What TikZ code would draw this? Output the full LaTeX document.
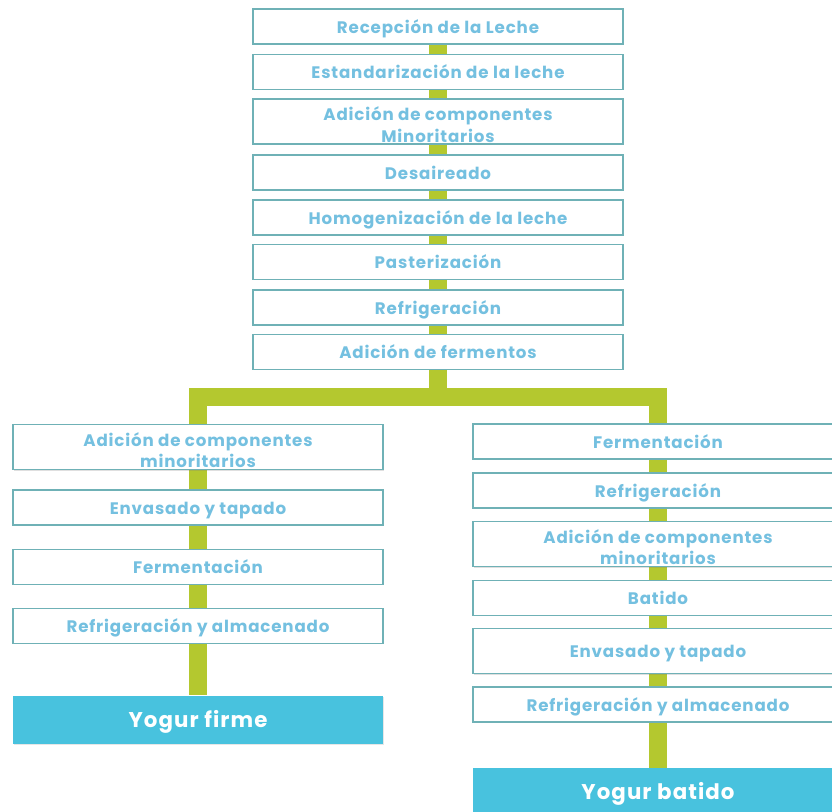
\documentclass[tikz,border=0pt]{standalone}
\usepackage{fontspec}
\setmainfont{Poppins}[LetterSpace=5]
\usetikzlibrary{shadows,backgrounds}

\definecolor{rand}{HTML}{6FB1B6}
\definecolor{schrift}{HTML}{74C0E0}
\definecolor{gruen}{HTML}{B4C82F}
\definecolor{cyan}{HTML}{48C2DE}

\def\oben{\rule{0pt}{15pt}}

\begin{document}
\begin{tikzpicture}[x=0.75pt,y=-0.75pt,
	schritt/.style={draw=rand,line width=1.1pt,fill=white,minimum width=277.5pt,
		minimum height=26pt,inner sep=0pt,align=center,text=schrift,
		text height=11pt,text depth=1pt,
		font=\bfseries\fontsize{12.5}{16}\selectfont,
		drop shadow={opacity=0.25,shadow xshift=0.8pt,shadow yshift=-0.8pt}},
	schritt2/.style={schritt,minimum height=34pt,text height=,text depth=},
	ende/.style={fill=cyan,minimum width=277.5pt,minimum height=36pt,inner sep=0pt,
		text=white,text height=13pt,text depth=1.2pt,
		font=\bfseries\fontsize{16}{18}\selectfont,
		drop shadow={opacity=0.2,shadow xshift=0.8pt,shadow yshift=-0.8pt}},
	stamm/.style={draw=gruen,line width=13.5pt}]

\useasboundingbox (0,0) rectangle (832,812);
\clip (0,0) rectangle (832,812);

% Hauptstrang
\node[schritt] (recepcion) at (438,26.5) {Recepción de la Leche};
\node[schritt] (estandar) at (438,72) {Estandarización de la leche};
\node[schritt2] (adicion) at (438,121.5) {\oben Adición de componentes\\Minoritarios};
\node[schritt] (desaireado) at (438,172.5) {Desaireado};
\node[schritt] (homogen) at (438,217.5) {Homogenización de la leche};
\node[schritt] (pasteur) at (438,262) {Pasterización};
\node[schritt] (refrig) at (438,307.5) {Refrigeración};
\node[schritt] (fermentos) at (438,352) {Adición de fermentos};
\coordinate (bar) at (438,397);

% links: Yogur firme
\node[schritt2] (l1) at (198,447) {\oben Adición de componentes\\minoritarios};
\node[schritt] (l2) at (198,507.5) {Envasado y tapado};
\node[schritt] (l3) at (198,567) {Fermentación};
\node[schritt] (l4) at (198,626) {Refrigeración y almacenado};
\node[ende] (firme) at (198,719.5) {Yogur firme};

% rechts: Yogur batido
\node[schritt] (r1) at (658,441.5) {Fermentación};
\node[schritt] (r2) at (658,490.5) {Refrigeración};
\node[schritt2] (r3) at (658,544) {\oben Adición de componentes\\minoritarios};
\node[schritt] (r4) at (658,598) {Batido};
\node[schritt,minimum height=34pt] (r5) at (658,651) {Envasado y tapado};
\node[schritt] (r6) at (658,704.5) {Refrigeración y almacenado};
\node[ende] (batido) at (658,792) {Yogur batido};

\begin{scope}[on background layer]
\foreach \a/\b in {recepcion/estandar,estandar/adicion,adicion/desaireado,
	desaireado/homogen,homogen/pasteur,pasteur/refrig,refrig/fermentos,
	l1/l2,l2/l3,l3/l4,l4/firme,r1/r2,r2/r3,r3/r4,r4/r5,r5/r6,r6/batido}
	\draw[stamm] (\a.south) -- (\b.north);
\draw[stamm] (fermentos.south) -- (fermentos.south |- bar);
\draw[stamm,line join=miter] (l1.north) -- (l1.north |- bar) -- (r1.north |- bar) -- (r1.north);
\end{scope}

\end{tikzpicture}
\end{document}
